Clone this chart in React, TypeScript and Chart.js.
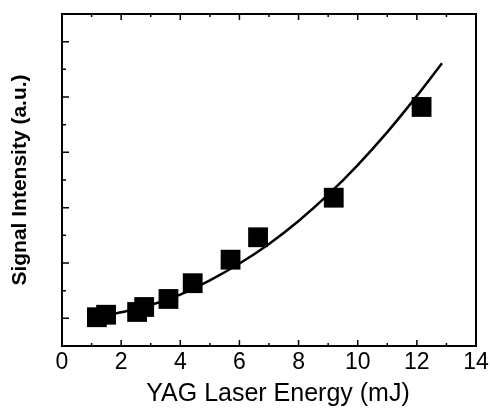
import React, { useEffect, useRef } from "react";
import { Chart, registerables } from "chart.js";

Chart.register(...registerables);

// Measured data points (YAG laser energy in mJ, signal intensity in a.u.)
const pointX = [1.18, 1.49, 2.54, 2.78, 3.6, 4.42, 5.7, 6.63, 9.19, 12.16];
const pointY = [1.04, 1.13, 1.23, 1.41, 1.7, 2.27, 3.12, 3.93, 5.36, 8.64];

// Fitted curve
const fitX = [1.3, 2, 3, 4, 5, 6, 7, 8, 9, 10, 11, 12, 12.85];
const fitY = [1.07, 1.22, 1.48, 1.86, 2.37, 2.98, 3.69, 4.52, 5.47, 6.54, 7.73, 9.04, 10.22];

// Tick positions
const xMajorTicks = [0, 2, 4, 6, 8, 10, 12, 14];
const xMinorTicks = [1, 3, 5, 7, 9, 11, 13];
const yMajorTicks = [1, 3, 5, 7, 9, 11];
const yMinorTicks = [2, 4, 6, 8, 10];

const xTitle = "YAG Laser Energy (mJ)";
const yTitle = "Signal Intensity (a.u.)";

const FONT = "'Liberation Sans', Arial, Helvetica, sans-serif";

const frameTicks = {
  id: "frameTicks",
  afterDatasetsDraw(chart: any) {
    const { ctx, chartArea, scales } = chart;
    const { left, right, top, bottom } = chartArea;
    const x = scales.x;
    const y = scales.y;
    ctx.save();
    ctx.strokeStyle = "#000";
    ctx.lineWidth = 1.5;
    ctx.beginPath();
    const xTick = (v: number, len: number) => {
      const px = x.getPixelForValue(v);
      ctx.moveTo(px, bottom);
      ctx.lineTo(px, bottom - len);
      ctx.moveTo(px, top);
      ctx.lineTo(px, top + len);
    };
    const yTick = (v: number, len: number) => {
      const py = y.getPixelForValue(v);
      ctx.moveTo(left, py);
      ctx.lineTo(left + len, py);
    };
    xMajorTicks.forEach((v) => xTick(v, 6));
    xMinorTicks.forEach((v) => xTick(v, 3));
    yMajorTicks.forEach((v) => yTick(v, 7));
    yMinorTicks.forEach((v) => yTick(v, 4));
    ctx.stroke();
    ctx.lineWidth = 2;
    ctx.strokeRect(left, top, right - left, bottom - top);

    // x-axis title (slightly right of the plot centre, as in the original)
    ctx.fillStyle = "#000";
    ctx.font = `25px ${FONT}`;
    ctx.textAlign = "center";
    ctx.textBaseline = "middle";
    ctx.fillText(xTitle, (left + right) / 2 + 9, bottom + 48);
    ctx.restore();
  },
};

export default function App() {
  const canvasRef = useRef<HTMLCanvasElement | null>(null);

  useEffect(() => {
    const canvas = canvasRef.current;
    if (!canvas) return;
    const chart = new Chart(canvas, {
      type: "scatter",
      data: {
        datasets: [
          {
            type: "line",
            label: "fit",
            data: fitX.map((v, i) => ({ x: v, y: fitY[i] })),
            borderColor: "#000",
            borderWidth: 2.5,
            pointRadius: 0,
            cubicInterpolationMode: "monotone",
            fill: false,
          } as any,
          {
            label: "data",
            data: pointX.map((v, i) => ({ x: v, y: pointY[i] })),
            pointStyle: "rect",
            pointRadius: 14,
            backgroundColor: "#000",
            borderColor: "#000",
            borderWidth: 0,
          },
        ],
      },
      options: {
        animation: false,
        responsive: false,
        devicePixelRatio: 1,
        layout: { padding: { top: 8, right: 8, left: 0, bottom: 0 } },
        plugins: { legend: { display: false }, tooltip: { enabled: false } },
        scales: {
          x: {
            type: "linear",
            min: 0,
            max: 14,
            grid: { display: false, drawTicks: false },
            border: { display: false },
            ticks: {
              stepSize: 2,
              padding: 3,
              color: "#000",
              font: { family: FONT, size: 23 },
              maxRotation: 0,
            },
            title: { display: false, text: xTitle },
            afterFit: (s: any) => {
              s.height = 63;
              s.paddingLeft = 0;
              s.paddingRight = 0;
            },
          },
          y: {
            type: "linear",
            min: 0,
            max: 12,
            grid: { display: false, drawTicks: false },
            border: { display: false },
            ticks: { display: false },
            title: {
              display: true,
              text: yTitle,
              color: "#000",
              font: { family: FONT, size: 21, weight: "bold" },
              padding: { top: 8, bottom: 0 },
            },
            afterFit: (s: any) => {
              s.width = 62;
              s.paddingTop = 0;
              s.paddingBottom = 0;
            },
          },
        },
      },
      plugins: [frameTicks],
    });
    return () => chart.destroy();
  }, []);

  return (
    <div style={{ position: "absolute", left: 0, top: 0, width: 490, height: 409, background: "#fff" }}>
      <canvas ref={canvasRef} width={490} height={409} style={{ display: "block" }} />
    </div>
  );
}
